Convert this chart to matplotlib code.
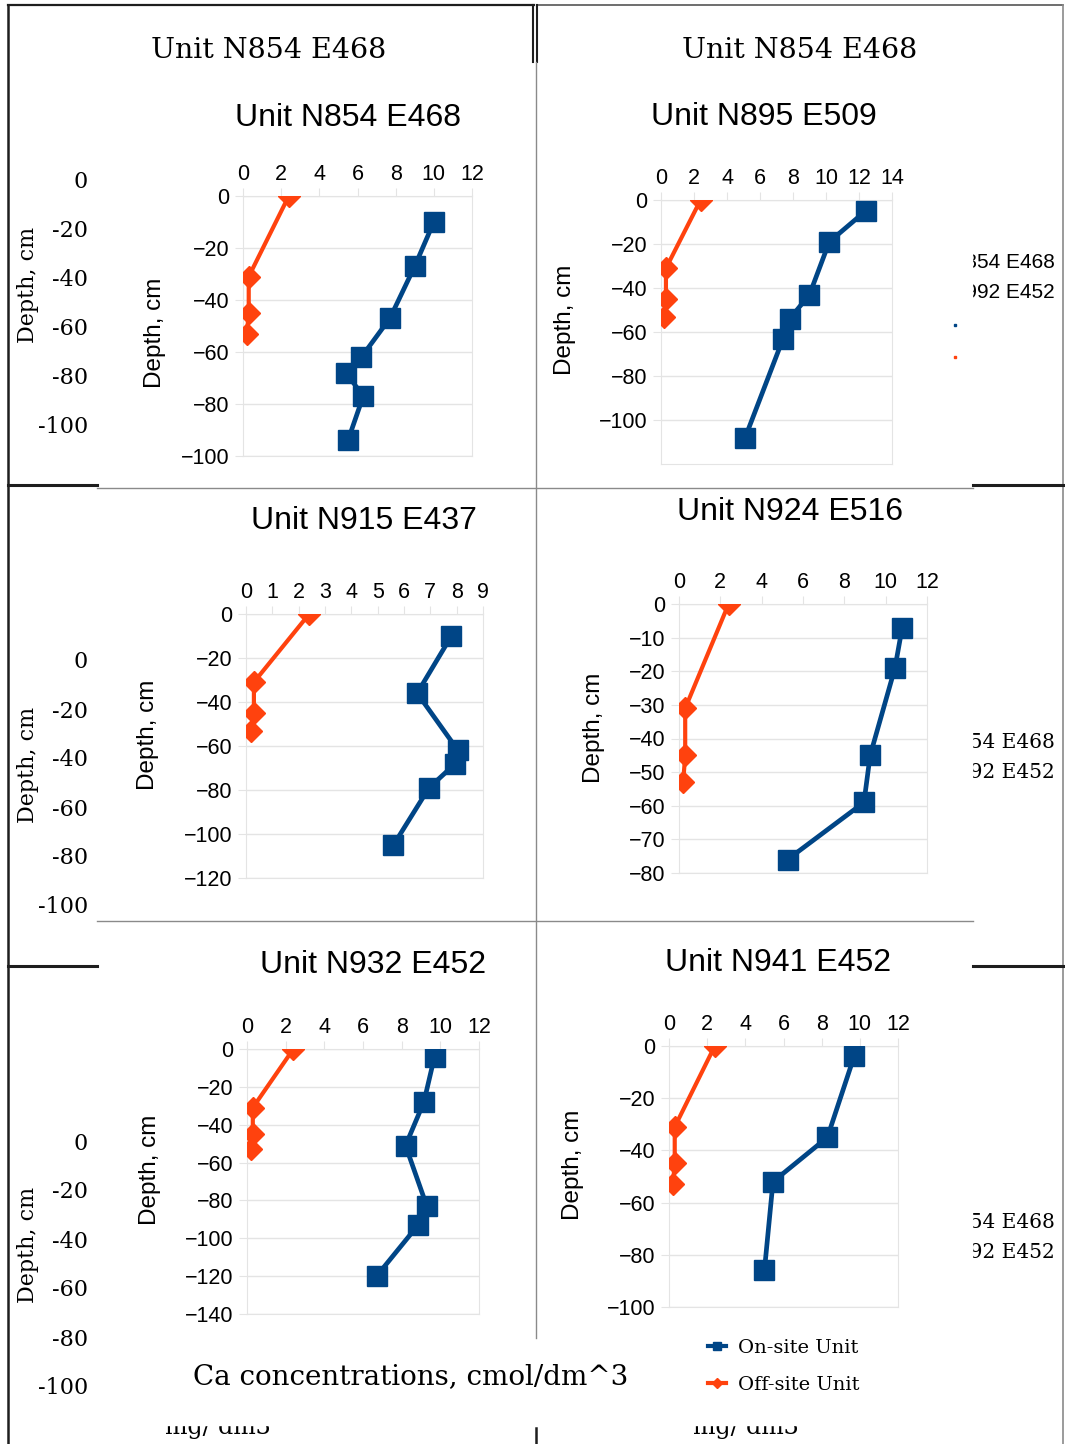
import matplotlib
matplotlib.use("Agg")
import matplotlib.pyplot as plt
from matplotlib.lines import Line2D
from matplotlib.patches import Rectangle

W, H = 1065, 1444
SANS = "Liberation Sans"
SERIF = "DejaVu Serif"
BLUE = "#004586"
ORANGE = "#ff420e"
GRID = "#e4e4e4"

# ---- data ----
units = ["Unit N854 E468", "Unit N895 E509", "Unit N915 E437",
         "Unit N924 E516", "Unit N932 E452", "Unit N941 E452"]

# off-site unit is the same reference profile in every chart
off_depth = [0, -31, -45, -53]
off_ca = [2.4, 0.3, 0.3, 0.2]

n854_depth = [-10, -27, -47, -62, -68, -77, -94]
n854_ca = [10.0, 9.0, 7.7, 6.2, 5.4, 6.3, 5.5]
n895_depth = [-5, -19, -43, -54, -63, -108]
n895_ca = [12.4, 10.2, 9.0, 7.8, 7.4, 5.1]
n915_depth = [-10, -36, -62, -68, -79, -105]
n915_ca = [7.8, 6.5, 8.05, 7.95, 6.95, 5.6]
n924_depth = [-7, -19, -45, -59, -76]
n924_ca = [10.8, 10.45, 9.25, 8.95, 5.25]
n932_depth = [-4, -28, -51, -83, -93, -120]
n932_ca = [9.7, 9.15, 8.2, 9.3, 8.85, 6.7]
n941_depth = [-4, -35, -52, -86]
n941_ca = [9.7, 8.3, 5.45, 5.0]

on_site = [(n854_ca, n854_depth), (n895_ca, n895_depth), (n915_ca, n915_depth),
           (n924_ca, n924_depth), (n932_ca, n932_depth), (n941_ca, n941_depth)]

ghost_ticks = [0, -20, -40, -60, -80, -100]

# ---- layout (pixel boxes: left, top, right, bottom) ----
layout = [
    dict(box=(243, 196, 472, 456), xmax=12, xstep=2, ymin=-100, ystep=20, ylow=-100,
         title=(348, 118), ylab=(155, 333)),
    dict(box=(661, 200, 892, 464), xmax=14, xstep=2, ymin=-120, ystep=20, ylow=-100,
         title=(764, 117), ylab=(565, 320)),
    dict(box=(246, 614, 483, 878), xmax=9, xstep=1, ymin=-120, ystep=20, ylow=-120,
         title=(364, 521), ylab=(148, 735)),
    dict(box=(679, 604, 927, 873), xmax=12, xstep=2, ymin=-80, ystep=10, ylow=-80,
         title=(790, 512), ylab=(594, 728)),
    dict(box=(247, 1049, 479, 1314), xmax=12, xstep=2, ymin=-140, ystep=20, ylow=-140,
         title=(373, 965), ylab=(150, 1170)),
    dict(box=(669, 1046, 898, 1307), xmax=12, xstep=2, ymin=-100, ystep=20, ylow=-100,
         title=(778, 963), ylab=(573, 1165)),
]


def frac(x0, y0, x1, y1):
    return [x0 / W, 1 - y1 / H, (x1 - x0) / W, (y1 - y0) / H]


fig = plt.figure(figsize=(W / 100, H / 100), dpi=100)
fig.patch.set_facecolor("white")

# background canvas in pixel coordinates
bg = fig.add_axes([0, 0, 1, 1])
bg.set_xlim(0, W)
bg.set_ylim(H, 0)
bg.axis("off")

dark = "#1e1e1e"
gray = "#8a8a8a"
bg.plot([8, 534], [5, 5], color=dark, lw=1.6)
bg.plot([537, 1063], [5, 5], color="#555555", lw=1.2)
bg.plot([8, 8], [5, 1444], color=dark, lw=1.8)
bg.plot([533, 533], [5, 62], color=dark, lw=1.5)
bg.plot([537, 537], [5, 62], color=dark, lw=1.5)
bg.plot([535.5, 535.5], [62, 1338], color=gray, lw=1)
bg.plot([535.5, 535.5], [1428, 1444], color=dark, lw=1.8)
bg.plot([1063, 1063], [5, 1444], color=gray, lw=1.2)
for y in (485, 966):
    bg.plot([8, 97], [y, y], color=dark, lw=2.2)
    bg.plot([973, 1063], [y, y], color=dark, lw=2.2)
for y in (488, 921):
    bg.plot([97, 973], [y, y], color=gray, lw=1)

# serif headers
for x in (269, 800):
    bg.text(x, 50, "Unit N854 E468", family=SERIF, fontsize=20.5, ha="center", va="center")

# cut-off legend fragments on the right
for y, txt, fam in [(262, "Unit N854 E468", SANS), (293, "Unit N992 E452", SANS),
                    (742, "Unit N854 E468", SERIF), (773, "Unit N992 E452", SERIF),
                    (1222, "Unit N854 E468", SERIF), (1253, "Unit N992 E452", SERIF)]:
    bg.text(1055, y, txt, family=fam, fontsize=15 if fam == SANS else 14.5,
            ha="right", va="center", zorder=2)
for y0, y1 in [(240, 315), (720, 795), (1200, 1275)]:
    bg.add_patch(Rectangle((540, y0), 432, y1 - y0, color="white", zorder=2.5))
bg.plot([955], [325], "s", color=BLUE, ms=1.5)
bg.plot([955], [357], "s", color=ORANGE, ms=1.5)

# cut-off unit captions at the very bottom
for x in (218, 746):
    bg.text(x, 1434, "mg/ dm3", family=SERIF, fontsize=17, ha="center", va="baseline", zorder=2)
    bg.add_patch(Rectangle((x - 80, 1398), 160, 27, color="white", zorder=2.5))

bg.text(411, 1377, "Ca concentrations, cmol/dm^3", family=SERIF, fontsize=20,
        ha="center", va="center")

# ghost depth axes on the far left
for top, bottom, lab_y in [(179, 424, 285), (660, 905, 765), (1141, 1386, 1245)]:
    g = fig.add_axes(frac(95, top, 96, bottom))
    g.set_ylim(-100, 0)
    g.set_yticks(ghost_ticks)
    g.set_yticklabels([str(t) for t in ghost_ticks], family=SERIF, fontsize=16)
    g.set_xticks([])
    g.tick_params(axis="y", length=0, pad=5)
    for s in g.spines.values():
        s.set_visible(False)
    g.patch.set_visible(False)
    g.set_ylabel("Depth, cm", family=SERIF, fontsize=16, va="center")
    g.yaxis.set_label_coords(28, lab_y, transform=bg.transData)

# the six depth profiles
for unit, (on_ca, on_depth), cfg in zip(units, on_site, layout):
    ax = fig.add_axes(frac(*cfg["box"]))
    ax.patch.set_visible(False)
    ax.plot(off_ca, off_depth, color=ORANGE, lw=3, marker="D", ms=11.5, zorder=3)
    ax.plot(on_ca, on_depth, color=BLUE, lw=3.4, marker="s", ms=14, zorder=4)
    ax.set_xlim(0, cfg["xmax"])
    ax.set_ylim(cfg["ymin"], 0)
    ax.set_xticks(range(0, cfg["xmax"] + 1, cfg["xstep"]))
    ax.set_yticks(range(cfg["ylow"], 1, cfg["ystep"]))
    ax.xaxis.tick_top()
    ax.tick_params(axis="both", colors=GRID, labelcolor="black", labelsize=15.5, length=6)
    ax.tick_params(axis="x", pad=2)
    ax.tick_params(axis="y", pad=4)
    for lab in ax.get_xticklabels() + ax.get_yticklabels():
        lab.set_family(SANS)
    ax.grid(axis="y", color=GRID, lw=1)
    for s in ax.spines.values():
        s.set_color(GRID)
    ax.set_ylabel("Depth, cm", family=SANS, fontsize=17.5, va="center")
    ax.yaxis.set_label_coords(*cfg["ylab"], transform=bg.transData)
    tx, ty = cfg["title"]
    bg.text(tx, ty, unit, family=SANS, fontsize=23, ha="center", va="center")

handles = [Line2D([], [], color=BLUE, lw=3, marker="s", ms=6),
           Line2D([], [], color=ORANGE, lw=3, marker="D", ms=5)]
fig.legend(handles, ["On-site Unit", "Off-site Unit"], loc="upper left",
           bbox_to_anchor=(700 / W, 1 - 1331 / H), frameon=False,
           prop=dict(family=SERIF, size=14), handlelength=0.95,
           handletextpad=0.6, labelspacing=1.0, borderaxespad=0)

fig.savefig("out.png", dpi=100, facecolor="white")
